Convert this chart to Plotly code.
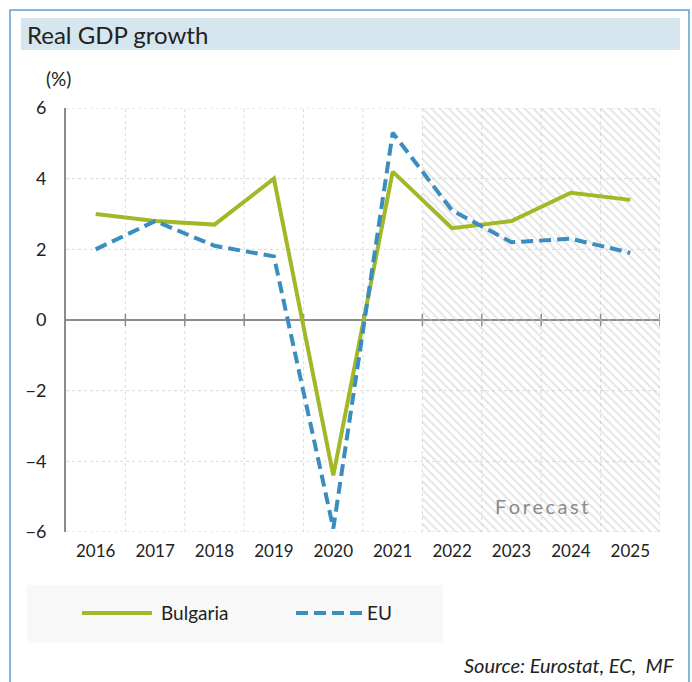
import plotly.graph_objects as go

# Real GDP growth, % y/y
years = ["2016", "2017", "2018", "2019", "2020", "2021", "2022", "2023", "2024", "2025"]
bulgaria = [3.0, 2.8, 2.7, 4.0, -4.4, 4.2, 2.6, 2.8, 3.6, 3.4]
eu = [2.0, 2.8, 2.1, 1.8, -5.9, 5.3, 3.1, 2.2, 2.3, 1.9]
forecast_from = "2022"
y_ticks = [-6, -4, -2, 0, 2, 4, 6]

W, H = 692, 682
ML, MR, MT, MB = 66, 32, 108, 150
PW, PH = W - ML - MR, H - MT - MB

FONT = "Lato"
GREEN = "#A2B827"
BLUE = "#3A8DBE"
GRID = "#DADADA"
AXIS = "#8C8C8C"


def px_x(p):
    return (p - ML) / PW


def px_y(p):
    return (H - MB - p) / PH


idx = list(range(len(years)))
x_lo, x_hi = -0.5, len(years) - 0.5
y_lo, y_hi = min(y_ticks), max(y_ticks)
f0 = years.index(forecast_from) - 0.5

fig = go.Figure()

# hatched forecast zone
fig.add_trace(go.Scatter(
    x=[f0, x_hi, x_hi, f0, f0], y=[y_lo, y_lo, y_hi, y_hi, y_lo],
    mode="lines", fill="toself", line=dict(width=0),
    fillcolor="rgba(0,0,0,0)",
    fillpattern=dict(shape="\\", fgcolor="#C4C4C4", bgcolor="rgba(0,0,0,0)",
                     size=6, solidity=0.3),
    hoverinfo="skip", showlegend=False,
))

fig.add_trace(go.Scatter(x=idx, y=bulgaria, mode="lines", name="Bulgaria",
                         line=dict(color=GREEN, width=4), showlegend=False))
fig.add_trace(go.Scatter(x=idx, y=eu, mode="lines", name="EU",
                         line=dict(color=BLUE, width=4, dash="12px,6px"),
                         showlegend=False))

shapes = []
# outer frame and title band
shapes.append(dict(type="rect", xref="paper", yref="paper",
                   x0=px_x(10), x1=px_x(689), y0=px_y(695), y1=px_y(10),
                   line=dict(color="#5C9FC9", width=1.5), fillcolor="rgba(0,0,0,0)", layer="below"))
shapes.append(dict(type="rect", xref="paper", yref="paper",
                   x0=px_x(21), x1=px_x(680), y0=px_y(50), y1=px_y(18),
                   line=dict(width=0), fillcolor="#D6E6EF", layer="below"))

# dotted grid
for b in [i + 0.5 for i in idx]:
    shapes.append(dict(type="line", xref="x", yref="y", x0=b, x1=b, y0=y_lo, y1=y_hi,
                       line=dict(color=GRID, width=1, dash="dot"), layer="below"))
for t in y_ticks:
    if t != 0:
        shapes.append(dict(type="line", xref="x", yref="y", x0=x_lo, x1=x_hi, y0=t, y1=t,
                           line=dict(color=GRID, width=1, dash="dot"), layer="below"))

# zero line with category-boundary ticks
shapes.append(dict(type="line", xref="x", yref="y", x0=x_lo, x1=x_hi, y0=0, y1=0,
                   line=dict(color=AXIS, width=2), layer="below"))
for b in [i + 0.5 for i in idx]:
    shapes.append(dict(type="line", xref="x", yref="y", ysizemode="pixel", yanchor=0,
                       x0=b, x1=b, y0=-6, y1=6, line=dict(color=AXIS, width=1.5), layer="below"))

# legend box and samples
shapes.append(dict(type="rect", xref="paper", yref="paper",
                   x0=px_x(27), x1=px_x(443), y0=px_y(643), y1=px_y(585),
                   line=dict(width=0), fillcolor="#F8F8F8", layer="below"))
shapes.append(dict(type="line", xref="paper", yref="paper",
                   x0=px_x(82), x1=px_x(152), y0=px_y(613), y1=px_y(613),
                   line=dict(color=GREEN, width=4)))
shapes.append(dict(type="line", xref="paper", yref="paper",
                   x0=px_x(296), x1=px_x(362), y0=px_y(613), y1=px_y(613),
                   line=dict(color=BLUE, width=4, dash="12px,6px")))

annotations = [
    dict(text="Real GDP growth", xref="paper", yref="paper", x=px_x(25), y=px_y(35),
         xanchor="left", yanchor="middle", showarrow=False,
         font=dict(family=FONT, size=24, color="#222222")),
    dict(text="(%)", xref="paper", yref="paper", x=px_x(58), y=px_y(78),
         xanchor="center", yanchor="middle", showarrow=False,
         font=dict(family=FONT, size=19, color="#222222")),
    dict(text="\u2009".join("Forecast"), xref="x", yref="y",
         x=(f0 + x_hi) / 2, y=-5.25, xanchor="center", yanchor="middle", showarrow=False,
         font=dict(family=FONT, size=20, color="#8A8A8A")),
    dict(text="Bulgaria", xref="paper", yref="paper", x=px_x(159), y=px_y(612),
         xanchor="left", yanchor="middle", showarrow=False,
         font=dict(family=FONT, size=19, color="#222222")),
    dict(text="EU", xref="paper", yref="paper", x=px_x(365), y=px_y(612),
         xanchor="left", yanchor="middle", showarrow=False,
         font=dict(family=FONT, size=19, color="#222222")),
    dict(text="<i>Source: Eurostat, EC,  MF</i>", xref="paper", yref="paper",
         x=px_x(676), y=px_y(665), xanchor="right", yanchor="middle", showarrow=False,
         font=dict(family=FONT, size=20, color="#222222")),
]

fig.update_layout(
    width=W, height=H,
    margin=dict(l=ML, r=MR, t=MT, b=MB),
    paper_bgcolor="white", plot_bgcolor="white",
    showlegend=False,
    shapes=shapes, annotations=annotations,
    xaxis=dict(range=[x_lo, x_hi], tickvals=idx, ticktext=years,
               showgrid=False, zeroline=False, showline=False, ticks="",
               ticklabelstandoff=7,
               tickfont=dict(family=FONT, size=17, color="#222222"), fixedrange=True),
    yaxis=dict(range=[y_lo, y_hi], tickvals=y_ticks, showgrid=False, zeroline=False,
               showline=True, linecolor=AXIS, linewidth=2, ticks="",
               ticklabelstandoff=14,
               tickfont=dict(family=FONT, size=18, color="#222222"), fixedrange=True),
)

fig.write_html("out.html")
